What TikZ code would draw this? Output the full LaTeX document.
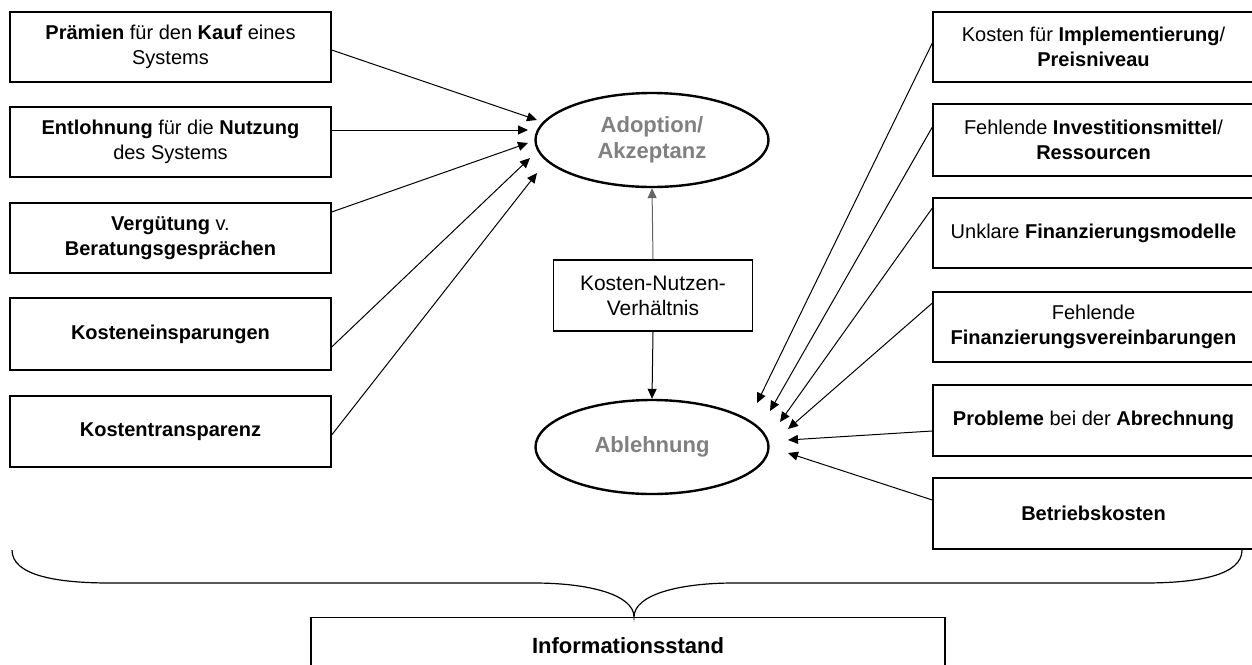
\documentclass[tikz,border=0pt]{standalone}
\usepackage{fontspec}
\setmainfont{Liberation Sans}
\usetikzlibrary{arrows.meta,shapes.geometric}
\definecolor{elltext}{RGB}{128,128,128}
\definecolor{uparrow}{RGB}{100,100,100}
\begin{document}
\begin{tikzpicture}[x=0.5pt,y=-0.5pt,
  box/.style={draw, line width=0.65pt, minimum width=160.5pt, inner sep=0pt, align=center,
    font=\fontsize{10}{12.5}\selectfont},
  ell/.style={draw, ellipse, line width=1.2pt, minimum width=116.5pt, minimum height=47pt,
    inner sep=0pt, align=center, text=elltext, font=\fontsize{11}{13}\selectfont\bfseries},
  arr/.style={-{Triangle[length=5pt,width=4.5pt]}, line width=0.5pt},
  bracestyle/.style={line width=0.6pt},
]
\useasboundingbox (0,0) rectangle (1252,664);

% left boxes
\node[box, minimum height=35pt] (b1) at (170.5,47) {\textbf{Prämien} für den \textbf{Kauf} eines\\Systems};
\node[box, minimum height=35pt] (b2) at (170.5,142) {\textbf{Entlohnung} für die \textbf{Nutzung}\\des Systems};
\node[box, minimum height=35pt] (b3) at (170.5,238) {\textbf{Vergütung} v.\\\textbf{Beratungsgesprächen}};
\node[box, minimum height=36pt] (b4) at (170.5,334) {\textbf{Kosteneinsparungen}};
\node[box, minimum height=35.5pt] (b5) at (170.5,431.5) {\textbf{Kostentransparenz}};

% right boxes
\node[box, minimum height=35pt] (r1) at (1093.5,47) {Kosten für \textbf{Implementierung}/\\\textbf{Preisniveau}};
\node[box, minimum height=36pt] (r2) at (1093.5,140) {Fehlende \textbf{Investitionsmittel}/\\\textbf{Ressourcen}};
\node[box, minimum height=35pt] (r3) at (1093.5,233) {Unklare \textbf{Finanzierungsmodelle}};
\node[box, minimum height=35pt] (r4) at (1093.5,327) {Fehlende\\\textbf{Finanzierungsvereinbarungen}};
\node[box, minimum height=35.5pt] (r5) at (1093.5,420.5) {\textbf{Probleme} bei der \textbf{Abrechnung}};
\node[box, minimum height=35.5pt] (r6) at (1093.5,513.5) {\textbf{Betriebskosten}};

% centre
\node[ell] (adopt) at (652,140) {Adoption/\\Akzeptanz};
\node[ell] (ablehn) at (652,447) {Ablehnung};
\node[box, minimum width=99.5pt, minimum height=35.5pt, font=\fontsize{10.5}{12.5}\selectfont] (kn) at (653,295.5) {Kosten-Nutzen-\\Verhältnis};

\draw[arr, draw=uparrow] (kn.north) -- (adopt.south);
\draw[arr] (kn.south) -- (ablehn.north);

% arrow end points
\coordinate (tl1) at (537,120);
\coordinate (tl2) at (528,130);
\coordinate (tl3) at (528,143);
\coordinate (tl4) at (530,158);
\coordinate (tl5) at (537,173);
\coordinate (tr1) at (757,403);
\coordinate (tr2) at (770,411);
\coordinate (tr3) at (780,422);
\coordinate (tr4) at (788,429);
\coordinate (tr5) at (788,440);
\coordinate (tr6) at (788,453);

\draw[arr] ([yshift=-1.5pt]b1.east) -- (tl1);
\draw[arr] ([yshift=6pt]b2.east) -- (tl2);
\draw[arr] ([yshift=13pt]b3.east) -- (tl3);
\draw[arr] ([yshift=-6.5pt]b4.east) -- (tl4);
\draw[arr] ([yshift=-1.75pt]b5.east) -- (tl5);

\draw[arr] ([yshift=2pt]r1.west) -- (tr1);
\draw[arr] ([yshift=6.5pt]r2.west) -- (tr2);
\draw[arr] ([yshift=12.5pt]r3.west) -- (tr3);
\draw[arr] ([yshift=12pt]r4.west) -- (tr4);
\draw[arr] ([yshift=-5.25pt]r5.west) -- (tr5);
\draw[arr] ([yshift=6.75pt]r6.west) -- (tr6);

% bottom box
\node[draw, line width=0.65pt, anchor=north, minimum width=317pt, inner xsep=0pt, inner ysep=8pt,
  text height=10pt, text depth=20pt, font=\fontsize{11}{13}\selectfont\bfseries] (info) at (628,617) {Informationsstand};

% brace
\coordinate (bl) at (12,550);
\coordinate (br) at (1242,550);
\coordinate (tip) at ([xshift=3pt]info.north);
\draw[bracestyle] (bl) .. controls (12,575) and (55,583) .. (110,583) -- (534,583)
  .. controls (590,583) and (634,595) .. (tip)
  .. controls (634,595) and (678,583) .. (734,583) -- (1144,583)
  .. controls (1199,583) and (1242,575) .. (br);
\end{tikzpicture}
\end{document}
